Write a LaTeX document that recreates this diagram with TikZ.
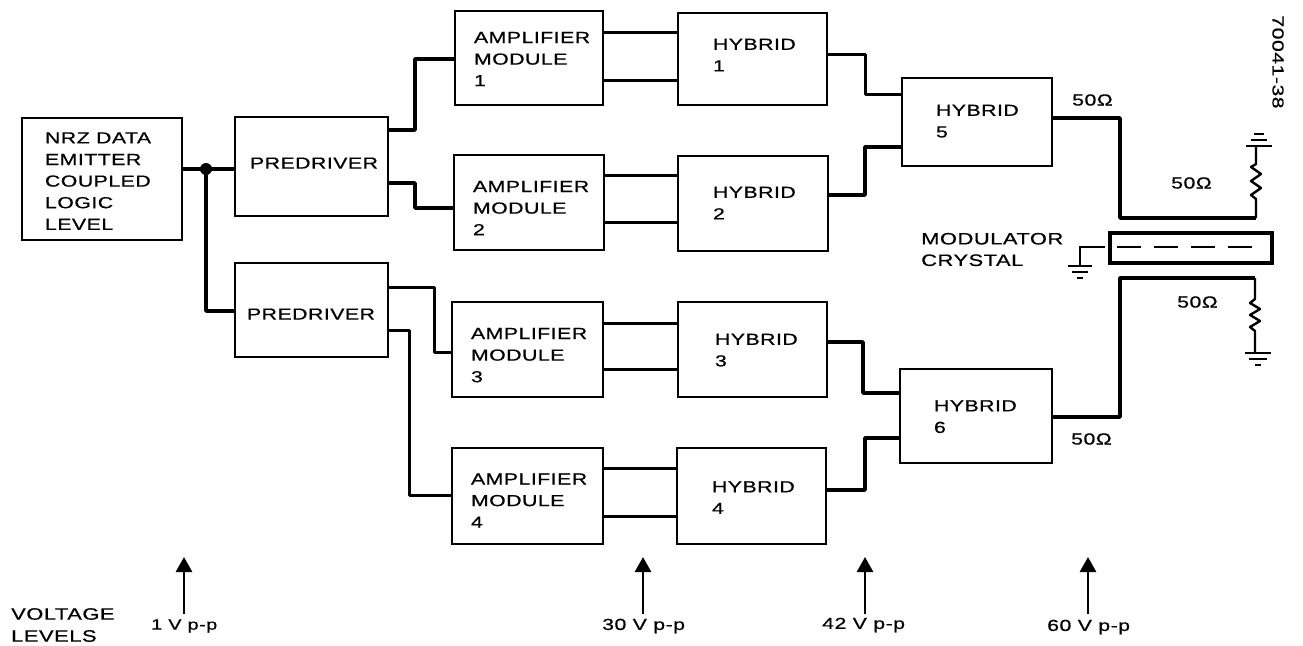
\documentclass[tikz,border=0pt]{standalone}
\usepackage{fontspec}
\setmainfont{Liberation Sans}[FakeStretch=1.33,LetterSpace=3,FakeBold=0.6]
\usetikzlibrary{arrows.meta,calc}
\tikzset{
  lab/.style={font=\fontsize{16}{22}\selectfont,inner sep=0pt,anchor=west,align=left},
  midl/.style={lab,font=\fontsize{16.5}{21.5}\selectfont},
  blk/.style={draw=black,line width=2.6pt,inner sep=0pt,align=flush left,font=\fontsize{16}{21.6}\selectfont},
  wire/.style={draw=black,line width=3.6pt,line join=round},
  thin wire/.style={draw=black,line width=3pt,line join=round},
  gnd/.style={draw=black,line width=1.8pt},
  lvl/.style={draw=black,line width=2.8pt,-{Triangle[length=15pt,width=16pt]}}
}
% name x1 y1 x2 y2 text-left-x text-dy text
\newcommand{\blkat}[8]{%
  \pgfmathsetmacro{\cx}{(#2+#4)/2}\pgfmathsetmacro{\cy}{(#3+#5)/2}
  \pgfmathsetmacro{\bw}{#4-#2}\pgfmathsetmacro{\bh}{#5-#3}
  \pgfmathsetmacro{\ins}{#6-#2}\pgfmathsetmacro{\rs}{-(#7+5.6)}
  \node[blk,text width=\bw pt,minimum height=\bh pt] (#1) at (\cx,\cy) {\hspace*{\ins pt}\raisebox{\rs pt}[0pt][0pt]{\begin{tabular}[c]{@{}l@{}}#8\end{tabular}}};}
\begin{document}
\begin{tikzpicture}[x=1pt,y=-1pt]
\useasboundingbox (0,0) rectangle (1303,645);
\blkat{nrz}{22}{118}{182}{240}{45}{2}{NRZ DATA\\EMITTER\\COUPLED\\LOGIC\\LEVEL}
\blkat{p1}{235}{117}{388}{216}{250}{-3.5}{PREDRIVER}
\blkat{p2}{235}{263}{388}{357}{247}{4}{PREDRIVER}
\blkat{a1}{455}{11}{603}{105}{474}{1}{AMPLIFIER\\MODULE\\1}
\blkat{a2}{454}{155}{604}{250}{473}{5.5}{AMPLIFIER\\MODULE\\2}
\blkat{a3}{452}{302}{603}{397}{471}{5.5}{AMPLIFIER\\MODULE\\3}
\blkat{a4}{452}{448}{603}{544}{471}{4.5}{AMPLIFIER\\MODULE\\4}
\blkat{h1}{678}{13}{827}{105}{713}{-4}{HYBRID\\1}
\blkat{h2}{678}{156}{828}{251}{713}{-0.5}{HYBRID\\2}
\blkat{h3}{678}{302}{827}{397}{715}{0.5}{HYBRID\\3}
\blkat{h4}{677}{448}{826}{544}{712}{1.5}{HYBRID\\4}
\blkat{h5}{902}{78}{1052}{166}{936}{-1}{HYBRID\\5}
\blkat{h6}{900}{369}{1052}{463}{934}{0.5}{HYBRID\\6}

\coordinate (j) at (206,169);
\draw[wire] (nrz.east |- j) -- (j) -- (p1.west |- j);
\fill (j) circle (6pt);
\draw[wire] (j) |- (p2.west |- 0,311);

\draw[wire] (p1.east |- 0,130) -| (415,59) -- (a1.west |- 0,59);
\draw[wire] (p1.east |- 0,183) -| (415,208) -- (a2.west |- 0,208);
\draw[thin wire] (p2.east |- 0,287) -| (434,352) -- (a3.west |- 0,352);
\draw[thin wire] (p2.east |- 0,330) -| (409,495) -- (a4.west |- 0,495);

\foreach \a/\h/\u/\l in {a1/h1/32/80,a2/h2/175/222,a3/h3/323/369,a4/h4/468/516}{
  \draw[thin wire] (\a.east |- 0,\u) -- (\h.west |- 0,\u);
  \draw[thin wire] (\a.east |- 0,\l) -- (\h.west |- 0,\l);
}
\draw[thin wire] (h1.east |- 0,54) -| (865,94) -- (h5.west |- 0,94);
\draw[wire] (h2.east |- 0,195) -| (865,147) -- (h5.west |- 0,147);
\draw[wire] (h3.east |- 0,342) -| (863,393) -- (h6.west |- 0,393);
\draw[wire] (h4.east |- 0,490) -| (865,438) -- (h6.west |- 0,438);

% termination network
\node[draw=black,line width=3.2pt,minimum width=162pt,minimum height=30pt,inner sep=0pt] (xtal) at (1191,248) {};
\coordinate (ru) at (1256,218);
\coordinate (rl) at (1255,278);
\coordinate (gu) at (1256,146);
\coordinate (gl) at (1255,353);
\coordinate (gx) at (1080,266);
\draw[wire] (h5.east |- 0,118) -| (1120,218) -- (ru);
\draw[wire] (h6.east |- 0,417) -| (1120,278) -- (rl);
\draw[thin wire,line width=2.4pt] (ru) -- ++(0,-19) -- ++(-5,-4) -- ++(10,-7) -- ++(-10,-7) -- ++(10,-7) -- ++(-10,-7) -- ++(5,-3) -- (gu);
\draw[thin wire,line width=2.4pt] (rl) -- ++(0,21) -- ++(-5,4) -- ++(10,6) -- ++(-10,6) -- ++(10,6) -- ++(-10,6) -- ++(5,4) -- (gl);
\draw[gnd] ($(gu)+(-10,0)$) -- ($(gu)+(16,0)$);
\draw[gnd] ($(gu)+(-5,-6)$) -- ($(gu)+(11,-6)$);
\draw[gnd] ($(gu)+(-2,-12)$) -- ($(gu)+(8,-12)$);
\draw[gnd] ($(gl)+(-10,0)$) -- ($(gl)+(16,0)$);
\draw[gnd] ($(gl)+(-6,6)$) -- ($(gl)+(12,6)$);
\draw[gnd] ($(gl)+(0,12)$) -- ($(gl)+(6,12)$);
\draw[gnd] ($(xtal.west)+(-3,-1)$) -| (gx);
\draw[gnd] ($(gx)+(-12,0)$) -- ($(gx)+(12,0)$);
\draw[gnd] ($(gx)+(-8,6)$) -- ($(gx)+(8,6)$);
\draw[gnd] ($(gx)+(-3,12)$) -- ($(gx)+(3,12)$);
\draw[draw=black,line width=2.2pt,dash pattern=on 24pt off 13pt] ($(xtal.west)+(9,-1)$) -- ($(xtal.east)+(-17,-1)$);

\node[lab] (l1) at (1072,100) {50Ω};
\node[lab] (l2) at (1171,183) {50Ω};
\node[lab] (l3) at (1177,302) {50Ω};
\node[lab] (l4) at (1071,439) {50Ω};
\node[midl] (mc) at (921,249.5) {MODULATOR\\CRYSTAL};
\node[font=\fontsize{16}{17}\selectfont,inner sep=0pt,rotate=-90] (id) at (1278,62) {70041-38};

\node[midl,font=\fontsize{16.5}{22}\selectfont] (vl) at (11,625) {VOLTAGE\\LEVELS};
\node[lab,font=\fontsize{15}{21}\selectfont] (v1) at (151,626) {1 V p-p};
\node[lab] (v2) at (602,626) {30 V p-p};
\node[lab] (v3) at (822,625) {42 V p-p};
\node[lab] (v4) at (1047,627) {60 V p-p};
\foreach \n/\x in {v1/184,v2/643,v3/865,v4/1088}
  \draw[lvl] (\x,614) -- (\x,557);
\end{tikzpicture}
\end{document}
